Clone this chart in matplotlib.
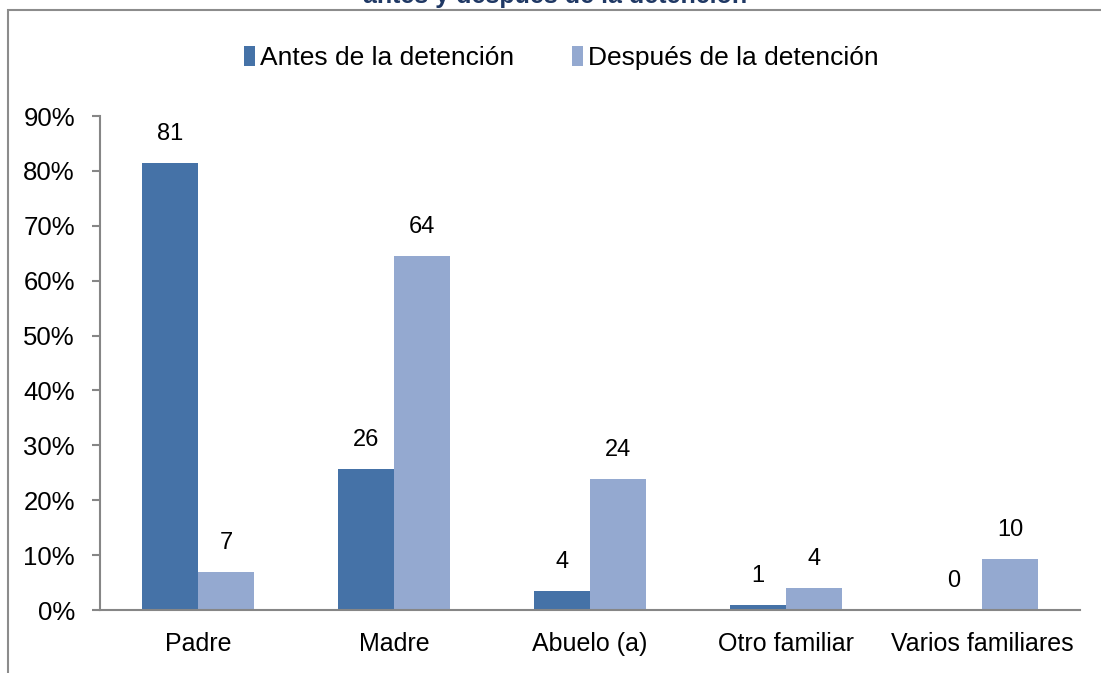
import numpy as np
import matplotlib
matplotlib.use("Agg")
import matplotlib.pyplot as plt
from matplotlib.patches import Rectangle

plt.rcParams['font.family'] = ['Liberation Sans', 'DejaVu Sans']

categories = ["Padre", "Madre", "Abuelo (a)", "Otro familiar", "Varios familiares"]
antes = [81.4, 25.7, 3.5, 0.9, 0.0]
despues = [6.9, 64.5, 23.9, 4.0, 9.3]
antes_labels = ["81", "26", "4", "1", "0"]
despues_labels = ["7", "64", "24", "4", "10"]
yticks = [0, 10, 20, 30, 40, 50, 60, 70, 80, 90]
series_names = ["Antes de la detención", "Después de la detención"]

DARK = "#4572A7"
LIGHT = "#94A9D0"
GRID = "#868686"

fig = plt.figure(figsize=(11.01, 6.73), dpi=100)
ax = fig.add_axes([100 / 1101, 63 / 673, 980 / 1101, 494 / 673])

# chart border (partially cut off like the original)
fig.patches.append(Rectangle((8 / 1101, -0.2), 1.2, 1.2 - 10 / 673,
                             transform=fig.transFigure, fill=False,
                             edgecolor="#8c8c8c", linewidth=1.5))

# clipped title at the very top
fig.text(0.504, 1 - 3 / 673, "antes y después de la detención", ha="center",
         va="baseline", fontsize=18, fontweight="bold", color="#1F3864")

x = np.arange(len(categories))
w = 0.286
b1 = ax.bar(x - w / 2, antes, w, color=DARK, label=series_names[0])
b2 = ax.bar(x + w / 2, despues, w, color=LIGHT, label=series_names[1])

for bars, labels in [(b1, antes_labels), (b2, despues_labels)]:
    for rect, lab in zip(bars, labels):
        ax.annotate(lab, (rect.get_x() + rect.get_width() / 2, rect.get_height()),
                    xytext=(0, 13), textcoords="offset points", ha="center",
                    va="bottom", fontsize=17)

ax.set_xlim(-0.5, len(categories) - 0.5)
ax.set_ylim(0, 90)
ax.set_yticks(yticks)
ax.set_yticklabels([f"{t}%" for t in yticks], fontsize=18.5)
ax.set_xticks(x)
ax.set_xticklabels(categories, fontsize=18)
ax.tick_params(axis="x", length=0, pad=16)
ax.tick_params(axis="y", length=6, color=GRID, width=1.5, pad=12)
for s in ["top", "right"]:
    ax.spines[s].set_visible(False)
for s in ["left", "bottom"]:
    ax.spines[s].set_color(GRID)
    ax.spines[s].set_linewidth(1.5)

fig.legend(loc="center", bbox_to_anchor=(0.51, 1 - 58 / 673), ncol=2,
           frameon=False, fontsize=19, handlelength=0.4, handleheight=0.8,
           handletextpad=0.2, columnspacing=2.2)

fig.savefig("out.png", dpi=100)
